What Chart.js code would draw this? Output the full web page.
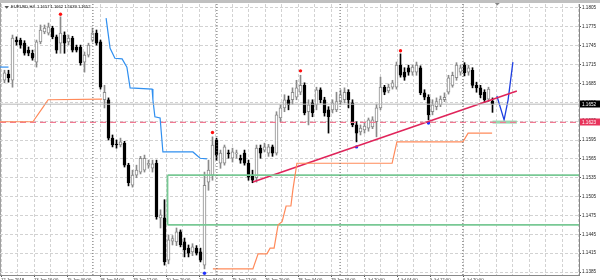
<!DOCTYPE html>
<html>
<head>
<meta charset="utf-8">
<script src="https://cdn.jsdelivr.net/npm/chart.js@4.4.1/dist/chart.umd.min.js"></script>
<style>
  html, body { margin: 0; padding: 0; background: #fff; }
  #wrap { width: 600px; height: 280px; }
</style>
</head>
<body>
<div id="wrap"><canvas id="eurusd" width="600" height="280"></canvas></div>
<script>
const symbol = "EURUSD,H4";

// H4 candles, one per bar index
const opens = [
  1.1690, 1.1700, 1.1690, 1.1754, 1.1754, 1.1749, 1.1738, 1.1733, 1.1719, 1.1751,
  1.1767, 1.1765, 1.1773, 1.1759, 1.1749, 1.1762, 1.1751, 1.1757, 1.1743, 1.1743,
  1.1719, 1.1730, 1.1754, 1.1765, 1.1751, 1.1659, 1.1659, 1.1598, 1.1588, 1.1587,
  1.1590, 1.1555, 1.1523, 1.1539, 1.1544, 1.1547, 1.1555, 1.1550, 1.1558, 1.1471,
  1.1471, 1.1404, 1.1434, 1.1433, 1.1449, 1.1433, 1.1423, 1.1417, 1.1423, 1.1417,
  1.1396, 1.1528, 1.1539, 1.1595, 1.1558, 1.1558, 1.1574, 1.1566, 1.1573, 1.1566,
  1.1574, 1.1558, 1.1539, 1.1535, 1.1582, 1.1579, 1.1574, 1.1584, 1.1574, 1.1630,
  1.1646, 1.1659, 1.1659, 1.1663, 1.1671, 1.1682, 1.1640, 1.1654, 1.1651, 1.1675,
  1.1659, 1.1643, 1.1643, 1.1643, 1.1656, 1.1659, 1.1671, 1.1654, 1.1619, 1.1608,
  1.1611, 1.1614, 1.1616, 1.1624, 1.1646, 1.1679, 1.1673, 1.1679, 1.1679, 1.1714,
  1.1703, 1.1710, 1.1703, 1.1703, 1.1710, 1.1670, 1.1663, 1.1640, 1.1648, 1.1651,
  1.1659, 1.1671, 1.1682, 1.1694, 1.1703, 1.1714, 1.1703, 1.1706, 1.1682, 1.1678,
  1.1671, 1.1660, 1.1657
];
const highs = [
  1.1706, 1.1706, 1.1762, 1.1759, 1.1757, 1.1753, 1.1743, 1.1738, 1.1754, 1.1778,
  1.1778, 1.1781, 1.1776, 1.1762, 1.1791, 1.1767, 1.1762, 1.1760, 1.1746, 1.1746,
  1.1735, 1.1749, 1.1773, 1.1770, 1.1754, 1.1682, 1.1662, 1.1603, 1.1595, 1.1598,
  1.1593, 1.1558, 1.1547, 1.1555, 1.1569, 1.1571, 1.1563, 1.1563, 1.1563, 1.1484,
  1.1500, 1.1444, 1.1443, 1.1455, 1.1452, 1.1439, 1.1428, 1.1430, 1.1427, 1.1423,
  1.1544, 1.1563, 1.1600, 1.1598, 1.1579, 1.1587, 1.1579, 1.1582, 1.1579, 1.1571,
  1.1579, 1.1563, 1.1547, 1.1587, 1.1587, 1.1590, 1.1588, 1.1587, 1.1640, 1.1651,
  1.1667, 1.1665, 1.1678, 1.1690, 1.1698, 1.1686, 1.1659, 1.1659, 1.1679, 1.1678,
  1.1663, 1.1648, 1.1659, 1.1671, 1.1675, 1.1678, 1.1675, 1.1659, 1.1624, 1.1619,
  1.1622, 1.1630, 1.1632, 1.1652, 1.1695, 1.1682, 1.1684, 1.1690, 1.1719, 1.1732,
  1.1710, 1.1714, 1.1714, 1.1719, 1.1713, 1.1675, 1.1667, 1.1659, 1.1662, 1.1665,
  1.1670, 1.1698, 1.1703, 1.1718, 1.1714, 1.1718, 1.1714, 1.1710, 1.1687, 1.1682,
  1.1675, 1.1679, 1.1662
];
const lows = [
  1.1686, 1.1687, 1.1679, 1.1746, 1.1741, 1.1730, 1.1729, 1.1722, 1.1711, 1.1748,
  1.1764, 1.1762, 1.1756, 1.1733, 1.1733, 1.1733, 1.1746, 1.1735, 1.1735, 1.1714,
  1.1703, 1.1727, 1.1751, 1.1746, 1.1676, 1.1646, 1.1595, 1.1584, 1.1582, 1.1584,
  1.1552, 1.1522, 1.1520, 1.1535, 1.1541, 1.1544, 1.1550, 1.1544, 1.1469, 1.1455,
  1.1396, 1.1398, 1.1428, 1.1427, 1.1425, 1.1409, 1.1409, 1.1411, 1.1412, 1.1401,
  1.1390, 1.1515, 1.1531, 1.1563, 1.1550, 1.1555, 1.1566, 1.1560, 1.1566, 1.1558,
  1.1555, 1.1531, 1.1527, 1.1528, 1.1566, 1.1576, 1.1569, 1.1569, 1.1571, 1.1624,
  1.1640, 1.1643, 1.1652, 1.1659, 1.1667, 1.1635, 1.1619, 1.1632, 1.1643, 1.1654,
  1.1633, 1.1606, 1.1638, 1.1640, 1.1651, 1.1654, 1.1646, 1.1616, 1.1592, 1.1603,
  1.1606, 1.1609, 1.1613, 1.1600, 1.1643, 1.1667, 1.1670, 1.1676, 1.1676, 1.1695,
  1.1690, 1.1698, 1.1698, 1.1698, 1.1667, 1.1659, 1.1627, 1.1635, 1.1643, 1.1648,
  1.1656, 1.1668, 1.1679, 1.1690, 1.1698, 1.1697, 1.1698, 1.1678, 1.1671, 1.1662,
  1.1655, 1.1656, 1.1639
];
const closes = [
  1.1702, 1.1694, 1.1757, 1.1751, 1.1746, 1.1733, 1.1733, 1.1725, 1.1751, 1.1770,
  1.1773, 1.1775, 1.1759, 1.1738, 1.1765, 1.1749, 1.1757, 1.1738, 1.1738, 1.1718,
  1.1730, 1.1746, 1.1765, 1.1749, 1.1679, 1.1671, 1.1598, 1.1587, 1.1587, 1.1592,
  1.1555, 1.1527, 1.1539, 1.1547, 1.1566, 1.1566, 1.1558, 1.1557, 1.1473, 1.1476,
  1.1401, 1.1436, 1.1438, 1.1449, 1.1428, 1.1420, 1.1415, 1.1425, 1.1415, 1.1404,
  1.1523, 1.1547, 1.1587, 1.1571, 1.1574, 1.1584, 1.1573, 1.1576, 1.1574, 1.1563,
  1.1558, 1.1536, 1.1531, 1.1582, 1.1574, 1.1584, 1.1584, 1.1574, 1.1635, 1.1646,
  1.1659, 1.1651, 1.1671, 1.1678, 1.1682, 1.1638, 1.1651, 1.1638, 1.1675, 1.1659,
  1.1638, 1.1632, 1.1654, 1.1656, 1.1667, 1.1671, 1.1659, 1.1619, 1.1606, 1.1614,
  1.1617, 1.1627, 1.1627, 1.1646, 1.1679, 1.1671, 1.1679, 1.1686, 1.1714, 1.1698,
  1.1695, 1.1703, 1.1711, 1.1714, 1.1670, 1.1663, 1.1635, 1.1651, 1.1656, 1.1660,
  1.1663, 1.1694, 1.1698, 1.1714, 1.1710, 1.1702, 1.1710, 1.1682, 1.1678, 1.1667,
  1.1659, 1.1676, 1.1652
];

// fractal markers
const upFractalBars = [14, 52, 74, 99];
const upFractalPrices = [1.1795, 1.1607, 1.1705, 1.1737];
const downFractalBars = [50, 88, 106];
const downFractalPrices = [1.1383, 1.1584, 1.1622];

// stepped band indicator (upper = blue, lower = orange)
const upperABars = [-1.125, 1];
const upperAPrices = [1.1711, 1.1711];
const upperBBars = [25.4, 26.4, 27.6, 29.4, 30.6, 31.4, 36.9, 37.1, 37.6, 38.9, 39.6, 47.1, 48.9, 50.6];
const upperBPrices = [1.1789, 1.1741, 1.1725, 1.1724, 1.1711, 1.1678, 1.1676, 1.1659, 1.1632, 1.1630, 1.1576, 1.1576, 1.1566, 1.1565];
const lowerABars = [-1.125, 7.1, 9.6, 10.9, 24.4];
const lowerAPrices = [1.1624, 1.1624, 1.1647, 1.1659, 1.1660];
const lowerBBars = [52.1, 62.1, 63.4, 65.6, 66.4, 67.4, 68.4, 69.4, 70.4, 71.6, 72.1, 73.1, 96.9, 98.1, 114.6, 115.9, 121.9];
const lowerBPrices = [1.1390, 1.1390, 1.1414, 1.1414, 1.1423, 1.1423, 1.1460, 1.1465, 1.1490, 1.1490, 1.1516, 1.1558, 1.1558, 1.1592, 1.1592, 1.1606, 1.1606];

// drawn objects
const trendBars = [62.1, 128.1];
const trendPrices = [1.1528, 1.1673];
const arrowBars = [123.1, 124.9, 125.9, 127.1];
const arrowPrices = [1.1665, 1.1627, 1.1659, 1.1719];
const zoneStartBar = 40.75;
const zonePrices = [1.1539, 1.1460];
const levelPrice = 1.1623;
const markBars = [122, 128.1];
const markPrice = 1.16235;
const separatorBars = [22.1, 53.1, 83.9, 114.6];

const yTicks = [1.1805, 1.1775, 1.1745, 1.1715, 1.1685, 1.1655, 1.1625, 1.1595, 1.1565, 1.1535, 1.1505, 1.1475, 1.1445, 1.1415, 1.1385];
const xLabels = [
  "12 Jun 2018", "13 Jun 16:00", "15 Jun 00:00", "18 Jun 04:00", "19 Jun 12:00",
  "20 Jun 20:00", "22 Jun 04:00", "25 Jun 12:00", "26 Jun 20:00", "28 Jun 04:00",
  "29 Jun 16:00", "2 Jul 20:00", "4 Jul 04:00", "5 Jul 12:00", "6 Jul 20:00"
];

// view window
const xMin = -1.125, xMax = 143.625;
const yMin = 1.138024, yMax = 1.181136;
const gridAnchor = 114.625, gridStep = 4.125;

const last = closes.length - 1;
const bidPrice = closes[last];
const isBull = i => closes[i] >= opens[i];
const pts = (xs, ys) => xs.map((x, i) => ({ x: x, y: ys[i] }));

const lineDs = (data, color, width, dash) => ({
  type: "line",
  data: data,
  borderColor: color,
  borderWidth: width,
  borderDash: dash || [],
  pointRadius: 0,
  tension: 0,
  fill: false,
  order: 0
});

const dotDs = (data, color) => ({
  type: "line",
  data: data,
  showLine: false,
  pointRadius: 1.7,
  pointBorderWidth: 0,
  pointBackgroundColor: color,
  clip: false,
  order: 0
});

const datasets = [];
// period separators
separatorBars.forEach(b => {
  datasets.push(lineDs(pts([b, b], [yMin, yMax]), "#606060", 1, [1, 2]));
});
datasets.push(lineDs(pts([xMin, xMax], [bidPrice, bidPrice]), "#b8b8b8", 1));
datasets.push(lineDs(pts(upperABars, upperAPrices), "#2f8ff0", 1.2));
datasets.push(lineDs(pts(upperBBars, upperBPrices), "#2f8ff0", 1.2));
datasets.push(lineDs(pts(lowerABars, lowerAPrices), "#ff8a5a", 1.2));
datasets.push(lineDs(pts(lowerBBars, lowerBPrices), "#ff8a5a", 1.2));
datasets.push(lineDs(pts([zoneStartBar, xMax], [zonePrices[0], zonePrices[0]]), "#78c894", 1.8));
datasets.push(lineDs(pts([zoneStartBar, xMax], [zonePrices[1], zonePrices[1]]), "#78c894", 1.8));
datasets.push(lineDs(pts([zoneStartBar, zoneStartBar], zonePrices), "#78c894", 1.8));
datasets.push(lineDs(pts([xMin, xMax], [levelPrice, levelPrice]), "#f07a92", 1.4, [6, 4]));
datasets.push(lineDs(pts(markBars, [markPrice, markPrice]), "#9ad6b0", 3));
datasets.push(lineDs(pts(trendBars, trendPrices), "#e0245a", 1.6));
datasets.push(lineDs(pts(arrowBars, arrowPrices), "#1f3fe0", 1.3));
datasets.push(dotDs(pts(upFractalBars, upFractalPrices), "#ff1010"));
datasets.push(dotDs(pts(downFractalBars, downFractalPrices), "#2030ff"));

// candle bodies and wicks
datasets.push({
  type: "bar",
  data: opens.map((o, i) => ({ x: i, y: [Math.min(o, closes[i]), Math.max(o, closes[i])] })),
  backgroundColor: c => isBull(c.dataIndex) ? "#ffffff" : "#000000",
  borderColor: c => isBull(c.dataIndex) ? "#8a8a8a" : "#000000",
  borderWidth: 1,
  borderSkipped: false,
  grouped: false,
  barPercentage: 1,
  categoryPercentage: 1,
  maxBarThickness: 3,
  minBarLength: 1,
  order: 1
});
datasets.push({
  type: "bar",
  data: lows.map((l, i) => ({ x: i, y: [l, highs[i]] })),
  backgroundColor: c => isBull(c.dataIndex) ? "#8a8a8a" : "#000000",
  borderWidth: 0,
  grouped: false,
  barPercentage: 1,
  categoryPercentage: 1,
  maxBarThickness: 1,
  order: 2
});

const axisFont = { family: "Liberation Sans", size: 4.6 };

// background, frame, title and price tags
const terminalLook = {
  id: "terminalLook",
  beforeDraw(chart) {
    const ctx = chart.ctx;
    ctx.save();
    ctx.fillStyle = "#ffffff";
    ctx.fillRect(0, 0, chart.width, chart.height);
    ctx.fillStyle = "#c0c0c0";
    ctx.fillRect(0, 0, chart.width, 3);
    ctx.fillStyle = "#a0a0a0";
    ctx.fillRect(0, 3, 1, chart.chartArea.bottom - 3);
    ctx.restore();
  },
  afterDraw(chart) {
    const ctx = chart.ctx;
    const y = chart.scales.y;
    const x = chart.scales.x;
    ctx.save();
    // title
    ctx.fillStyle = "#555";
    ctx.beginPath();
    ctx.moveTo(4.5, 6); ctx.lineTo(9, 6); ctx.lineTo(6.75, 8.7); ctx.closePath();
    ctx.fill();
    ctx.fillStyle = "#000";
    ctx.font = '4.1px "Liberation Sans"';
    ctx.textBaseline = "middle";
    const f = v => v.toFixed(4);
    ctx.fillText(symbol + "  " + f(opens[last]) + " " + f(highs[last]) + " " + f(lows[last]) + " " + f(closes[last]), 11, 7.3);
    // chart shift marker
    const sx = x.getPixelForValue(last + 1.2);
    ctx.fillStyle = "#888";
    ctx.beginPath();
    ctx.moveTo(sx - 2.5, 3); ctx.lineTo(sx + 2.5, 3); ctx.lineTo(sx, 5.5); ctx.closePath();
    ctx.fill();
    // price tags
    const tag = (price, color) => {
      const py = Math.round(y.getPixelForValue(price));
      ctx.fillStyle = color;
      ctx.fillRect(580, py - 3.5, 20, 7);
      ctx.fillStyle = "#fff";
      ctx.font = '4.6px "Liberation Sans"';
      ctx.textBaseline = "middle";
      ctx.fillText(price.toFixed(4), 582, py + 0.3);
    };
    tag(bidPrice, "#000000");
    tag(levelPrice, "#e8335b");
    ctx.restore();
  }
};

new Chart(document.getElementById("eurusd"), {
  type: "bar",
  data: { datasets: datasets },
  options: {
    responsive: false,
    devicePixelRatio: 1,
    animation: false,
    layout: { padding: { top: 4, left: 0, right: 0, bottom: 0 }, autoPadding: false },
    plugins: { legend: { display: false }, tooltip: { enabled: false } },
    scales: {
      x: {
        type: "linear",
        bounds: "data",
        min: xMin,
        max: xMax,
        offset: false,
        afterBuildTicks: s => {
          const t = [];
          for (let k = -7; k <= 28; k++) {
            const v = gridAnchor - k * gridStep;
            if (v >= xMin && v <= xMax) t.push({ value: v });
          }
          s.ticks = t.sort((a, b) => a.value - b.value);
        },
        afterFit: s => { s.height = 5; },
        ticks: {
          autoSkip: false,
          maxRotation: 0,
          minRotation: 0,
          align: "start",
          padding: 0,
          color: "#222",
          font: { family: "Liberation Sans", size: 4.2 },
          callback: v => {
            const k = Math.round((gridAnchor - v) / gridStep);
            return (k >= 0 && k % 2 === 0) ? (xLabels[14 - k / 2] || "") : "";
          }
        },
        grid: {
          offset: false,
          color: "#d2d2d2",
          drawTicks: true,
          tickLength: 2,
          tickColor: c => (c.tick && c.tick.label) ? "#555" : "rgba(0,0,0,0)"
        },
        border: { display: true, color: "#888", width: 1, dash: [3, 2] }
      },
      y: {
        type: "linear",
        position: "right",
        bounds: "data",
        min: yMin,
        max: yMax,
        afterBuildTicks: s => {
          s.ticks = yTicks.slice().sort((a, b) => a - b).map(v => ({ value: v }));
        },
        afterFit: s => { s.width = 21; },
        ticks: {
          padding: 1,
          color: "#222",
          font: axisFont,
          callback: v => v.toFixed(4)
        },
        grid: {
          color: "#d2d2d2",
          drawTicks: true,
          tickLength: 2,
          tickColor: "#555"
        },
        border: { display: true, color: "#888", width: 1, dash: [3, 2] }
      }
    }
  },
  plugins: [terminalLook]
});
</script>
</body>
</html>
